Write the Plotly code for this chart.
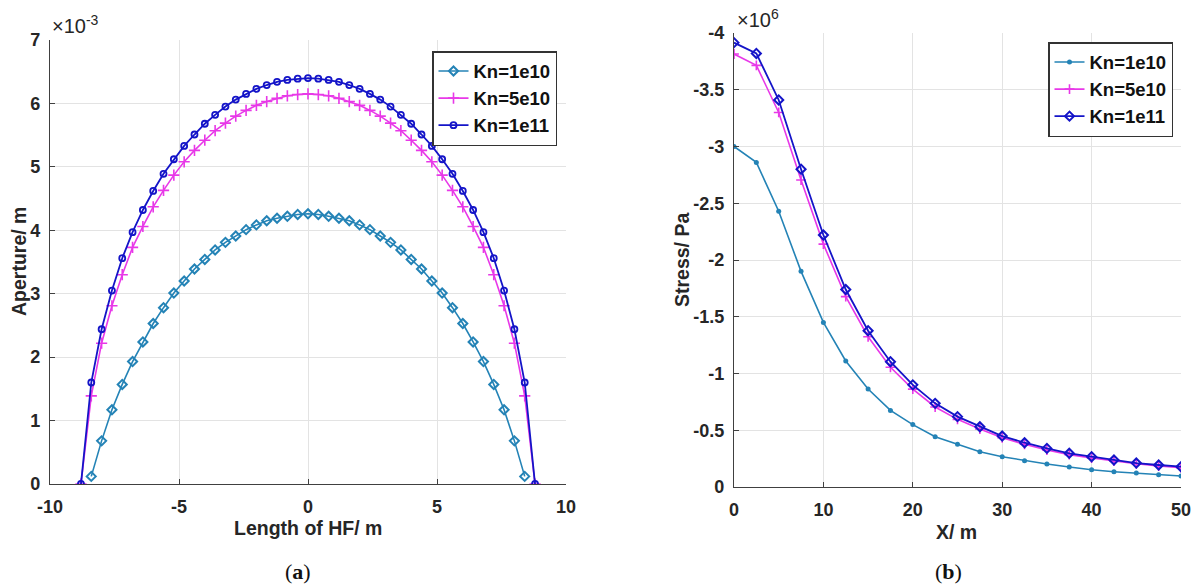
import plotly.graph_objects as go

# ---------------- Panel (a): fracture aperture profile ----------------
# positions along the hydraulic fracture (m)
hf_x_outer = [-8.8, -8.4, -8.0, -7.6, -7.2, -6.8, -6.4, -6.0, -5.6, -5.2, -4.8,
              -4.4, -4.0, -3.6, -3.2, -2.8, -2.4, -2.0, -1.6, -1.2, -0.8, -0.4,
              0.0, 0.4, 0.8, 1.2, 1.6, 2.0, 2.4, 2.8, 3.2, 3.6, 4.0, 4.4, 4.8,
              5.2, 5.6, 6.0, 6.4, 6.8, 7.2, 7.6, 8.0, 8.4, 8.8]
hf_x_inner = [-8.4, -8.0, -7.6, -7.2, -6.8, -6.4, -6.0, -5.6, -5.2, -4.8,
              -4.4, -4.0, -3.6, -3.2, -2.8, -2.4, -2.0, -1.6, -1.2, -0.8, -0.4,
              0.0, 0.4, 0.8, 1.2, 1.6, 2.0, 2.4, 2.8, 3.2, 3.6, 4.0, 4.4, 4.8,
              5.2, 5.6, 6.0, 6.4, 6.8, 7.2, 7.6, 8.0, 8.4]

# aperture in units of 1e-3 m
aperture_kn1e10 = [0.12, 0.68, 1.17, 1.57, 1.93, 2.24, 2.53, 2.78, 3.01, 3.20,
                   3.39, 3.54, 3.69, 3.81, 3.91, 4.01, 4.085, 4.15, 4.19, 4.22, 4.25,
                   4.26, 4.25, 4.22, 4.19, 4.15, 4.085, 4.01, 3.91, 3.81, 3.69, 3.54,
                   3.39, 3.20, 3.01, 2.78, 2.53, 2.24, 1.93, 1.57, 1.17, 0.68, 0.12]
aperture_kn5e10 = [0.0, 1.39, 2.22, 2.81, 3.30, 3.73, 4.06, 4.37, 4.63, 4.87, 5.08,
                   5.26, 5.42, 5.57, 5.69, 5.80, 5.89, 5.97, 6.03, 6.08, 6.12, 6.14,
                   6.15, 6.14, 6.12, 6.08, 6.03, 5.97, 5.89, 5.80, 5.69, 5.57, 5.42,
                   5.26, 5.08, 4.87, 4.63, 4.37, 4.06, 3.73, 3.30, 2.81, 2.22, 1.39, 0.0]
aperture_kn1e11 = [0.0, 1.60, 2.44, 3.05, 3.56, 3.97, 4.32, 4.62, 4.89, 5.12, 5.33,
                   5.51, 5.68, 5.82, 5.95, 6.06, 6.15, 6.23, 6.29, 6.34, 6.37, 6.39,
                   6.40, 6.39, 6.37, 6.34, 6.29, 6.23, 6.15, 6.06, 5.95, 5.82, 5.68,
                   5.51, 5.33, 5.12, 4.89, 4.62, 4.32, 3.97, 3.56, 3.05, 2.44, 1.60, 0.0]

# ---------------- Panel (b): stress along X ----------------
stress_x = [0, 2.5, 5, 7.5, 10, 12.5, 15, 17.5, 20, 22.5, 25, 27.5, 30,
            32.5, 35, 37.5, 40, 42.5, 45, 47.5, 50]
# stress in units of 1e6 Pa
stress_kn1e10 = [-3.00, -2.86, -2.43, -1.90, -1.45, -1.11, -0.863, -0.675, -0.550,
                 -0.443, -0.376, -0.311, -0.267, -0.232, -0.203, -0.176, -0.152,
                 -0.135, -0.123, -0.108, -0.097]
stress_kn5e10 = [-3.815, -3.715, -3.30, -2.705, -2.14, -1.677, -1.324, -1.055, -0.862,
                 -0.705, -0.596, -0.511, -0.434, -0.376, -0.326, -0.285, -0.255,
                 -0.229, -0.205, -0.185, -0.170]
stress_kn1e11 = [-3.915, -3.82, -3.41, -2.80, -2.22, -1.74, -1.377, -1.104, -0.900,
                 -0.737, -0.620, -0.531, -0.449, -0.390, -0.340, -0.297, -0.267,
                 -0.238, -0.211, -0.194, -0.179]

series_names = ["Kn=1e10", "Kn=5e10", "Kn=1e11"]

# tick values and labels
a_xticks = [-10, -5, 0, 5, 10]
a_xticklabels = ["-10", "-5", "0", "5", "10"]
a_yticks = [0, 1, 2, 3, 4, 5, 6, 7]
a_yticklabels = ["0", "1", "2", "3", "4", "5", "6", "7"]
b_xticks = [0, 10, 20, 30, 40, 50]
b_xticklabels = ["0", "10", "20", "30", "40", "50"]
b_yticks = [0, -0.5, -1, -1.5, -2, -2.5, -3, -3.5, -4]
b_yticklabels = ["0", "-0.5", "-1", "-1.5", "-2", "-2.5", "-3", "-3.5", "-4"]

C_CYAN = "#2483b6"
C_MAG = "#e838e8"
C_BLUE = "#1414c8"
TXT = "#262626"
AX = "#404040"
GRID = "#e3e3e3"
FONT = "Liberation Sans, Arial, sans-serif"

W, H = 1195, 588


def px(x):
    return x / W


def py(y):
    return 1 - y / H


def bold(labels):
    return ["<b>%s</b>" % t for t in labels]


fig = go.Figure()

# panel (a) traces
fig.add_trace(go.Scatter(
    x=hf_x_inner, y=aperture_kn1e10, name="<b>%s</b>" % series_names[0], mode="lines+markers",
    line=dict(color=C_CYAN, width=1.6),
    marker=dict(symbol="diamond-open", size=7, color=C_CYAN, line=dict(width=2, color=C_CYAN)),
    xaxis="x", yaxis="y", legend="legend"))
fig.add_trace(go.Scatter(
    x=hf_x_outer, y=aperture_kn5e10, name="<b>%s</b>" % series_names[1], mode="lines+markers",
    line=dict(color=C_MAG, width=1.6),
    marker=dict(symbol="cross-thin-open", size=8, color=C_MAG, line=dict(width=1.6, color=C_MAG)),
    xaxis="x", yaxis="y", legend="legend"))
fig.add_trace(go.Scatter(
    x=hf_x_outer, y=aperture_kn1e11, name="<b>%s</b>" % series_names[2], mode="lines+markers",
    line=dict(color=C_BLUE, width=1.8),
    marker=dict(symbol="circle-open", size=6, color=C_BLUE, line=dict(width=1.8, color=C_BLUE)),
    xaxis="x", yaxis="y", legend="legend"))

# panel (b) traces
fig.add_trace(go.Scatter(
    x=stress_x, y=stress_kn1e10, name="<b>%s</b>" % series_names[0], mode="lines+markers",
    line=dict(color=C_CYAN, width=1.6),
    marker=dict(symbol="circle", size=5, color=C_CYAN),
    xaxis="x2", yaxis="y2", legend="legend2"))
fig.add_trace(go.Scatter(
    x=stress_x, y=stress_kn5e10, name="<b>%s</b>" % series_names[1], mode="lines+markers",
    line=dict(color=C_MAG, width=1.6),
    marker=dict(symbol="cross-thin-open", size=7, color=C_MAG, line=dict(width=1.6, color=C_MAG)),
    xaxis="x2", yaxis="y2", legend="legend2"))
fig.add_trace(go.Scatter(
    x=stress_x, y=stress_kn1e11, name="<b>%s</b>" % series_names[2], mode="lines+markers",
    line=dict(color=C_BLUE, width=1.8),
    marker=dict(symbol="diamond-open", size=7, color=C_BLUE, line=dict(width=2, color=C_BLUE)),
    xaxis="x2", yaxis="y2", legend="legend2"))

tickfont = dict(family=FONT, size=18, color=TXT)
common = dict(showgrid=True, gridcolor=GRID, gridwidth=1, zeroline=False,
              showline=True, linecolor=AX, linewidth=1.3, ticks="inside",
              ticklen=5, tickcolor=AX, tickwidth=1.2, tickfont=tickfont,
              tickmode="array", automargin=False, mirror=False)
xcommon = dict(common, ticklabelstandoff=6)
ycommon = dict(common, ticklabelstandoff=5)

legend_font = dict(family=FONT, size=18.5, color="#111111")

fig.update_layout(
    width=W, height=H,
    margin=dict(l=0, r=0, t=0, b=0),
    paper_bgcolor="white", plot_bgcolor="white",
    showlegend=True,
    xaxis=dict(domain=[px(50), px(566)], range=[-10, 10], anchor="y",
               tickvals=a_xticks, ticktext=bold(a_xticklabels), **xcommon),
    yaxis=dict(domain=[py(484), py(40)], range=[0, 7], anchor="x",
               tickvals=a_yticks, ticktext=bold(a_yticklabels), **ycommon),
    xaxis2=dict(domain=[px(734), px(1181)], range=[0, 50], anchor="y2",
                tickvals=b_xticks, ticktext=bold(b_xticklabels), **xcommon),
    yaxis2=dict(domain=[py(487), py(33)], range=[0, -4], anchor="x2",
                tickvals=b_yticks, ticktext=bold(b_yticklabels), **ycommon),
    legend=dict(x=px(557), y=py(51), xanchor="right", yanchor="top",
                bgcolor="white", bordercolor="#333333", borderwidth=1.5,
                font=legend_font, itemwidth=30, tracegroupgap=0),
    legend2=dict(x=px(1173), y=py(42), xanchor="right", yanchor="top",
                 bgcolor="white", bordercolor="#333333", borderwidth=1.5,
                 font=legend_font, itemwidth=30, tracegroupgap=0),
)

title_font = dict(family=FONT, size=19.5, color=TXT)
exp_font = dict(family=FONT, size=20, color=TXT)
cap_font = dict(family="Liberation Serif, Times New Roman, serif", size=22, color="#111111")

annotations = [
    # axis titles
    dict(text="<b>Length of HF/ m</b>", x=px(308), y=py(528), font=title_font),
    dict(text="<b>Aperture/ m</b>", x=px(19), y=py(262), textangle=-90, font=title_font),
    dict(text="<b>X/ m</b>", x=px(957), y=py(532), font=title_font),
    dict(text="<b>Stress/ Pa</b>", x=px(682), y=py(260), textangle=-90, font=title_font),
    # axis multipliers
    dict(text="×10<sup>-3</sup>", x=px(50), y=py(24), xanchor="left", font=exp_font),
    dict(text="×10<sup>6</sup>", x=px(735), y=py(19), xanchor="left", font=exp_font),
    # panel captions
    dict(text="(<b>a</b>)", x=px(298), y=py(571), font=cap_font),
    dict(text="(<b>b</b>)", x=px(948), y=py(571), font=cap_font),
]
for a in annotations:
    a.setdefault("xanchor", "center")
    a.setdefault("yanchor", "middle")
    fig.add_annotation(xref="paper", yref="paper", showarrow=False, **a)

fig.write_html("out.html")
